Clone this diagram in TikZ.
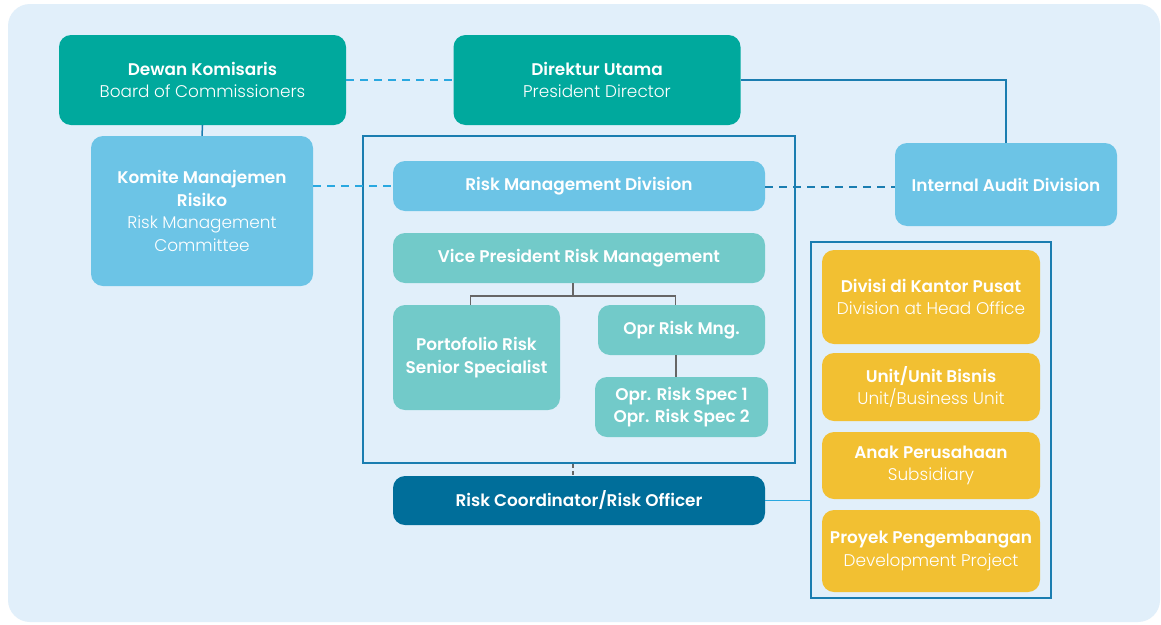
\documentclass[tikz,border=0pt]{standalone}
\usepackage{fontspec}
\setmainfont{Poppins}[UprightFont=* Light, BoldFont=* SemiBold]
\usepackage{xcolor}
\usetikzlibrary{positioning, calc}

\definecolor{bgblue}{HTML}{E1EFFA}
\definecolor{teal}{HTML}{00A99D}
\definecolor{skyb}{HTML}{6CC4E6}
\definecolor{mint}{HTML}{72CAC9}
\definecolor{navy}{HTML}{006E9A}
\definecolor{gold}{HTML}{F2C032}
\definecolor{lineb}{HTML}{29A8E0}
\definecolor{darkb}{HTML}{1A7DB0}
\definecolor{treeg}{HTML}{666666}

\begin{document}
\begin{tikzpicture}[
  x=1pt, y=-1pt,
  every node/.style={font=\fontsize{16.9}{22.5}\selectfont, text=white},
  box/.style={rounded corners=12pt, align=center, inner sep=2pt},
  board/.style={box, fill=teal, minimum width=287pt, minimum height=90pt},
  sky/.style={box, fill=skyb},
  mintbox/.style={box, fill=mint},
  unitbox/.style={box, fill=gold, minimum width=218pt},
  frame/.style={draw=darkb, line width=1.5pt, inner sep=0pt},
  solid line/.style={line width=1.5pt},
  dline/.style={line width=1.5pt, dash pattern=on 8pt off 6pt},
  tree/.style={draw=treeg, line width=1.5pt},
]

% background panel
\useasboundingbox (0,0) rectangle (1161,624);
\fill[white] (0,0) rectangle (1161,624);
\fill[bgblue, rounded corners=22pt] (8,4) rectangle (1160,622);

% frames
\node[frame, minimum width=432pt, minimum height=327pt] (rmframe) at (579,299.5) {};
\node[frame, minimum width=240pt, minimum height=356pt] (unitframe) at (931,420) {};

% top row
\node[board] (dk) at (202.5,80) {\textbf{Dewan Komisaris}\\Board of Commissioners};
\node[board] (du) at (597,80) {\textbf{Direktur Utama}\\President Director};

% committee and audit
\node[sky, minimum width=222pt, minimum height=150pt] (kmr) at (202,211)
  {\textbf{Komite Manajemen}\\\textbf{Risiko}\\Risk Management\\Committee};
\node[sky, minimum width=222pt, minimum height=83pt] (iad) at (1006,184.5)
  {\textbf{Internal Audit Division}};

% risk management division
\node[sky, minimum width=372pt, minimum height=50pt] (rmd) at (579,186)
  {\textbf{Risk Management Division}};
\node[mintbox, minimum width=372pt, minimum height=50pt] (vp) at (579,258)
  {\textbf{Vice President Risk Management}};
\node[mintbox, minimum width=167pt, minimum height=105pt] (prs) at (476.5,357.5)
  {\textbf{Portofolio Risk}\\\textbf{Senior Specialist}};
\node[mintbox, minimum width=167pt, minimum height=50pt] (orm) at (681.5,330)
  {\textbf{Opr Risk Mng.}};
\node[mintbox, minimum width=173pt, minimum height=60pt] (ors) at (681.5,407)
  {\textbf{Opr. Risk Spec 1}\\\textbf{Opr. Risk Spec 2}};

% risk coordinator
\node[box, fill=navy, minimum width=372pt, minimum height=49pt] (rco) at (579,500.5)
  {\textbf{Risk Coordinator/Risk Officer}};

% units
\node[unitbox, minimum height=94pt] (u1) at (931,297)
  {\textbf{Divisi di Kantor Pusat}\\Division at Head Office};
\node[unitbox, minimum height=68pt] (u2) at (931,387)
  {\textbf{Unit/Unit Bisnis}\\Unit/Business Unit};
\node[unitbox, minimum height=67pt] (u3) at (931,465.5)
  {\textbf{Anak Perusahaan}\\Subsidiary};
\node[unitbox, minimum height=82pt] (u4) at (931,551)
  {\textbf{Proyek Pengembangan}\\Development Project};

% connectors
\draw[dline, lineb] (dk.east) -- (du.west);
\draw[solid line, darkb] (du.east) -| (iad.north);
\draw[solid line, darkb] (dk.south) -- (kmr.north);
\draw[dline, lineb] (kmr.east |- rmd.west) -- (rmd.west);
\draw[dline, darkb] ([yshift=-1pt]rmd.east) -- ([yshift=-1pt]rmd.east -| iad.west);

% tree inside division
\draw[tree] (573,283) -- (573,296);
\draw[tree] (470.5,305) |- (675.5,296) -- (675.5,305);
\draw[tree] (orm.south -| 676,0) -- (ors.north -| 676,0);
\draw[tree, dash pattern=on 4pt off 3pt] (rmframe.south -| 573,0) -- (rco.north -| 573,0);

% coordinator to units
\draw[solid line, lineb] (rco.east) -- (rco.east -| unitframe.west);

\end{tikzpicture}
\end{document}
